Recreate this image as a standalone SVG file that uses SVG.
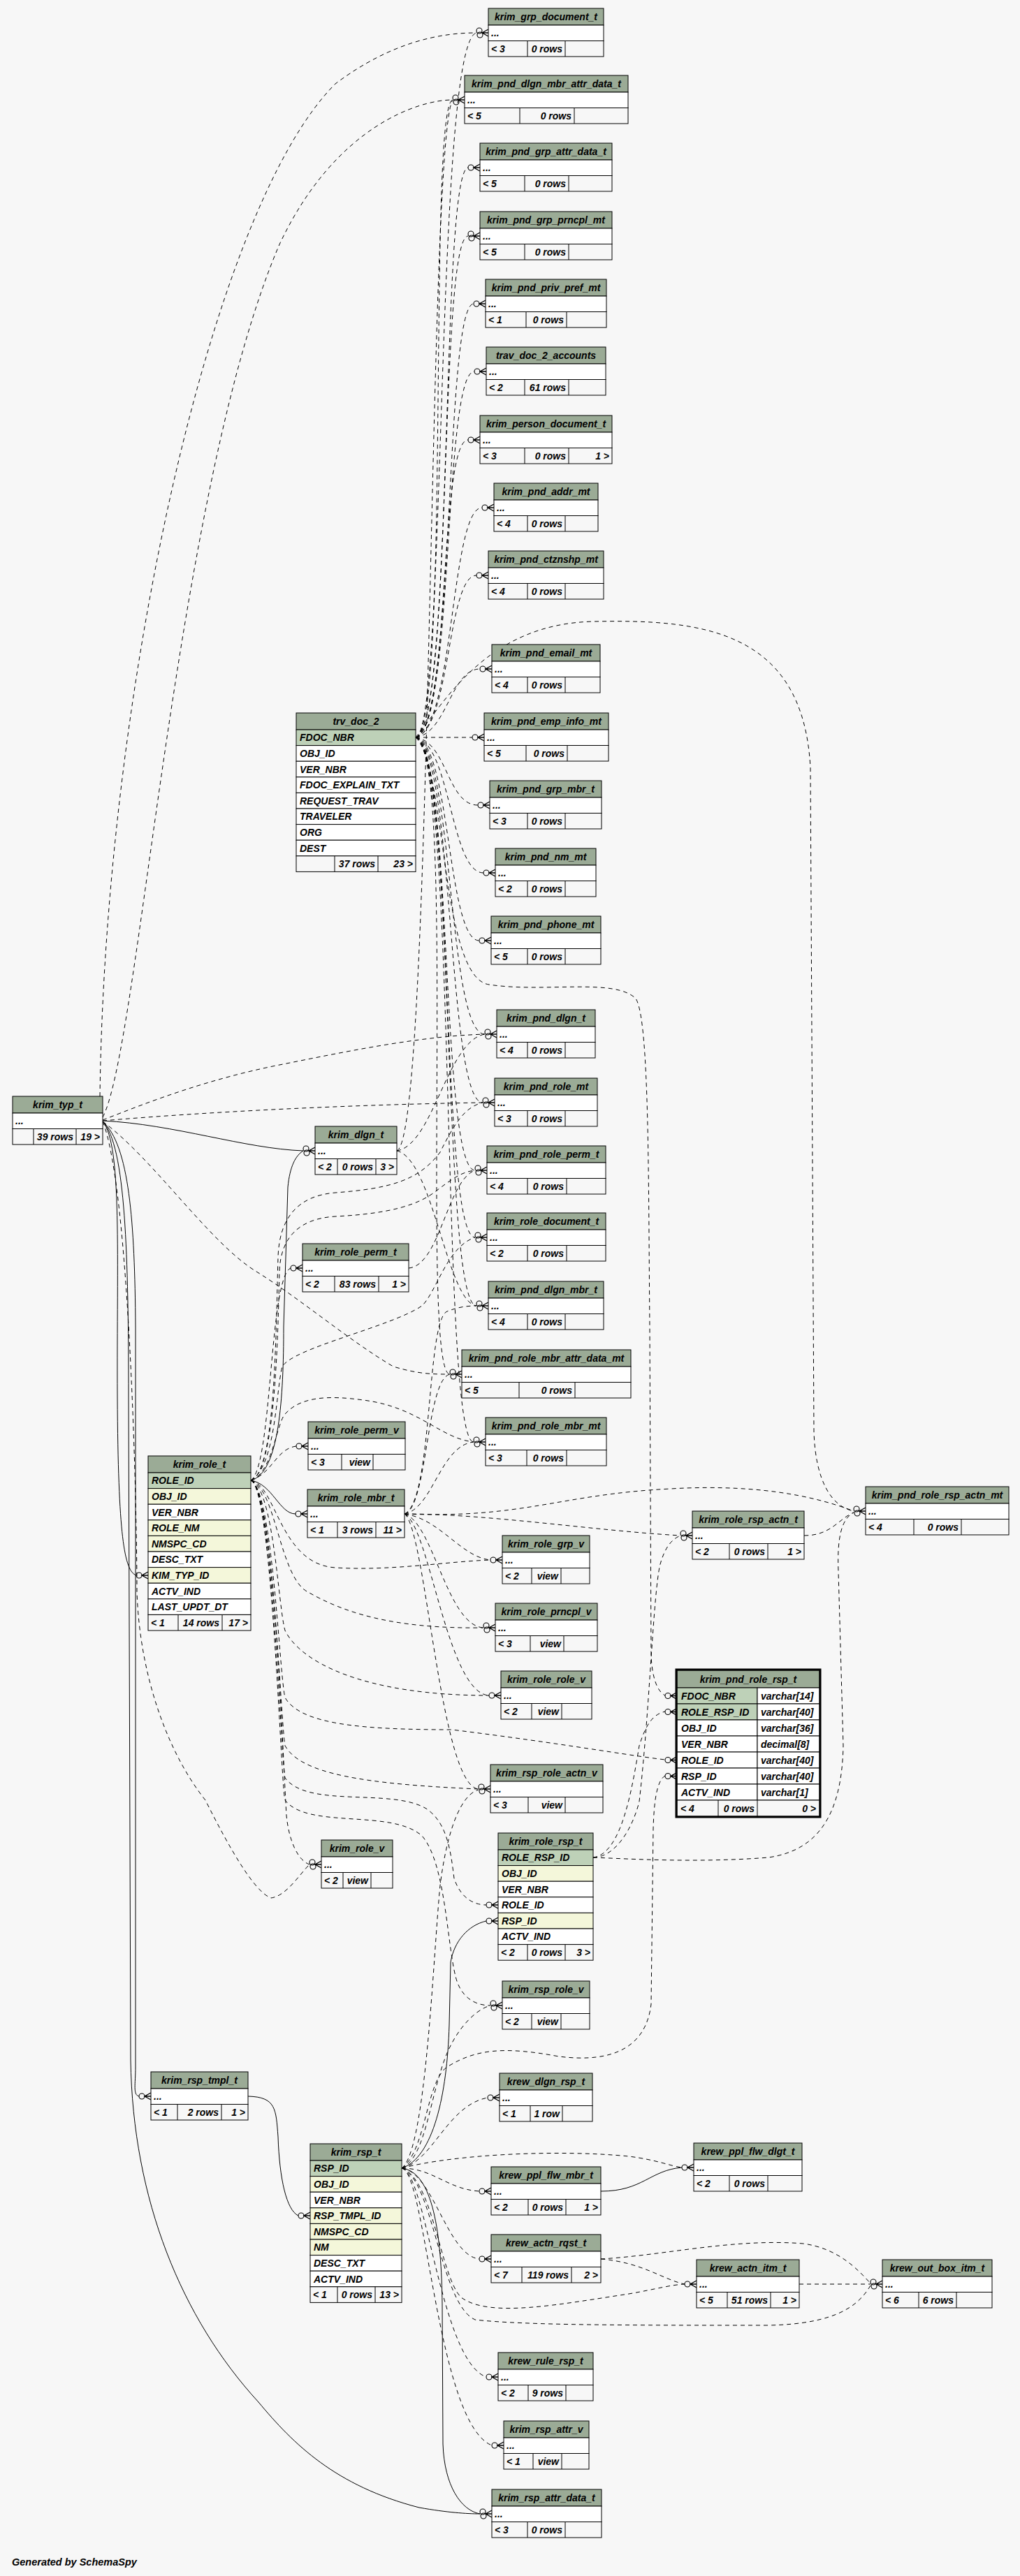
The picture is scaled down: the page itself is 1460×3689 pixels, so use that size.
<svg xmlns="http://www.w3.org/2000/svg" width="1460" height="3689" viewBox="0 0 1460 3689">
<style>
text{font-family:"Liberation Sans",Arial,Helvetica,sans-serif;font-weight:bold;font-style:italic;font-size:14px;fill:#000}
.m{text-anchor:middle}
.e{text-anchor:end}
.hd{fill:#9bab96;stroke:#000;stroke-width:1}
.pk{fill:#bed1b8;stroke:#000;stroke-width:1}
.ix{fill:#f4f7da;stroke:#000;stroke-width:1}
.wt{fill:#fff;stroke:#000;stroke-width:1}
.ft{fill:#f7f7f7;stroke:#000;stroke-width:1}
.ln{stroke:#000;stroke-width:1;fill:none}
#connectors path{fill:none;stroke:#000;stroke-width:1}
#connectors .d{stroke-dasharray:6 5}
</style>
<defs>
<g id="cf"><circle cx="-13" cy="0" r="4" fill="none" stroke="#000" stroke-width="1.1"/><path d="M0,-5L-9,0L0,5M-9,0H0" stroke="#000" stroke-width="1.4" fill="none"/></g>
<g id="cf2"><circle cx="-13" cy="-3" r="4" fill="none" stroke="#000" stroke-width="1.1"/><circle cx="-12" cy="3" r="4" fill="none" stroke="#000" stroke-width="1.1"/><path d="M0,-5L-9,0L0,5M-9,0H0" stroke="#000" stroke-width="1.4" fill="none"/></g>
</defs>
<rect x="0" y="0" width="1460" height="3689" fill="#f7f7f7"/>

<g id="connectors">
<path class="d" d="M595,1056 C640,1050 622,60 682,47"/>
<path class="d" d="M595,1056 C645,1045 612,150 648,143"/>
<path class="d" d="M595,1056 C650,1040 630,245 670,240"/>
<path class="d" d="M595,1056 C648,1040 628,340 670,338"/>
<path class="d" d="M595,1056 C652,1040 636,436 678,435"/>
<path class="d" d="M595,1056 C650,1045 634,532 679,532"/>
<path class="d" d="M595,1056 C645,1045 628,630 670,630"/>
<path class="d" d="M595,1056 C650,1045 645,727 690,727"/>
<path class="d" d="M595,1056 C645,1045 640,824 682,824"/>
<path class="d" d="M595,1056 C640,1050 645,958 687,958"/>
<path class="d" d="M595,1056 L676,1056"/>
<path class="d" d="M595,1056 C640,1062 640,1153 684,1153"/>
<path class="d" d="M595,1056 C645,1065 645,1250 692,1250"/>
<path class="d" d="M595,1056 C645,1065 640,1347 686,1347"/>
<path class="d" d="M595,1056 C650,1070 640,1481 694,1481"/>
<path class="d" d="M595,1056 C650,1070 640,1579 691,1579"/>
<path class="d" d="M595,1056 C648,1070 630,1676 680,1676"/>
<path class="d" d="M595,1056 C650,1070 630,1772 680,1772"/>
<path class="d" d="M595,1056 C652,1075 632,1870 682,1870"/>
<path class="d" d="M595,1056 C655,1075 600,1968 644,1968"/>
<path class="d" d="M595,1056 C655,1080 630,2065 678,2065"/>
<path class="d" d="M595,1056 C640,1000 700,893 850,890 C1000,887 1150,900 1160,1100 L1165,2050 C1167,2120 1190,2158 1222,2164"/>
<path class="d" d="M595,1056 C640,1100 630,1400 700,1410 C780,1422 880,1400 910,1430 C930,1460 928,1700 930,1900 L932,2370 C933,2400 940,2422 952,2428"/>
<path class="d" d="M143,1570 C150,1000 300,300 480,120 C560,60 630,47 682,47"/>
<path class="d" d="M147,1600 C200,1500 250,700 400,350 C480,180 600,143 648,143"/>
<path class="d" d="M147,1604 C220,1575 300,1545 400,1525 C500,1505 600,1484 694,1481"/>
<path class="d" d="M147,1605 C300,1592 500,1582 691,1579"/>
<path class="s" d="M147,1605 C250,1610 350,1645 434,1648"/>
<path class="d" d="M147,1606 C220,1660 300,1780 367,1821 C430,1860 500,1920 563,1957 C600,1968 620,1968 644,1968"/>
<path class="s" d="M147,1606 C175,1640 167,1800 168,2000 C169,2200 178,2250 195,2256"/>
<path class="s" d="M147,1606 C185,1640 193,1750 194,1900 L194,2960 C194,2985 190,3000 199,3002"/>
<path class="s" d="M147,1606 C180,1640 184,1800 184,2000 L187,2950 C190,3150 260,3320 370,3440 C420,3500 480,3560 600,3591 C640,3598 668,3600 687,3600"/>
<path class="d" d="M147,1606 C185,1700 196,2150 196,2280 C200,2400 240,2510 294,2578 C330,2650 365,2710 388,2718 C410,2715 428,2685 443,2670"/>
<path class="d" d="M568,1648 C620,1640 640,1490 694,1481"/>
<path class="d" d="M568,1648 C620,1660 640,1865 682,1870"/>
<path class="d" d="M568,1648 C620,1630 612,200 648,143"/>
<path class="d" d="M585,1816 C630,1812 640,1690 680,1676"/>
<path class="s" d="M359,2120 C400,2110 406,2000 406,1900 L412,1700 C415,1670 423,1655 434,1648"/>
<path class="d" d="M359,2120 C390,2100 385,1830 416,1816"/>
<path class="d" d="M359,2120 C390,2110 395,2075 424,2071"/>
<path class="s" d="M359,2120 C390,2125 400,2168 423,2168"/>
<path class="d" d="M359,2120 C392,2130 404,2500 410,2600 C414,2640 428,2665 443,2670"/>
<path class="d" d="M359,2120 C395,2125 400,2240 480,2245 C560,2250 640,2236 702,2234"/>
<path class="d" d="M359,2120 C395,2130 400,2260 441,2280 C490,2308 560,2333 692,2331"/>
<path class="d" d="M359,2120 C392,2130 398,2300 408,2335 C430,2380 520,2428 700,2428"/>
<path class="d" d="M359,2120 C390,2130 402,2470 408,2500 C430,2540 520,2555 685,2562"/>
<path class="d" d="M359,2120 C390,2130 402,2520 408,2546 C440,2590 560,2560 610,2590 C640,2610 645,2650 650,2690 C660,2720 680,2728 696,2728"/>
<path class="d" d="M359,2120 C390,2130 402,2560 408,2578 C440,2620 560,2590 604,2629 C640,2670 640,2800 655,2840 C665,2865 685,2872 702,2872"/>
<path class="d" d="M359,2120 C390,2130 400,2400 408,2431 C430,2470 520,2477 647,2477 C807,2497 900,2514 952,2520"/>
<path class="d" d="M359,2120 C395,2110 395,1900 398,1800 C400,1740 430,1712 480,1708 C560,1702 600,1690 630,1650 C650,1610 665,1585 691,1579"/>
<path class="d" d="M359,2120 C395,2110 398,1900 400,1820 C402,1770 430,1745 480,1742 C560,1738 600,1725 625,1705 C645,1690 660,1678 680,1676"/>
<path class="d" d="M359,2120 C395,2100 395,1990 404,1957 C420,1930 560,1900 604,1870 C625,1850 640,1785 680,1772"/>
<path class="d" d="M359,2120 C390,2110 395,2040 408,2025 C430,2000 470,1998 520,2005 C600,2015 630,2060 678,2065"/>
<path class="d" d="M579,2168 C612,2160 610,1975 644,1968"/>
<path class="d" d="M579,2168 C620,2160 630,2070 678,2065"/>
<path class="d" d="M579,2168 C700,2168 850,2192 974,2199"/>
<path class="d" d="M579,2168 C750,2175 800,2140 960,2132 C1100,2124 1180,2148 1222,2164"/>
<path class="d" d="M579,2168 C630,2175 660,2230 702,2234"/>
<path class="d" d="M579,2168 C620,2180 640,2328 692,2331"/>
<path class="d" d="M579,2168 C615,2185 640,2425 700,2428"/>
<path class="d" d="M579,2168 C610,2190 630,2558 685,2562"/>
<path class="d" d="M579,2168 C620,2150 610,1890 640,1878 C655,1872 668,1870 682,1870"/>
<path class="d" d="M849,2660 C880,2660 905,2620 915,2580 C930,2450 935,2280 945,2240 C952,2215 962,2204 974,2199"/>
<path class="d" d="M849,2660 C890,2655 905,2560 915,2500 C925,2468 935,2455 952,2451"/>
<path class="d" d="M849,2660 C900,2662 1000,2668 1100,2660 C1170,2650 1205,2600 1207,2500 L1200,2250 C1198,2200 1205,2175 1222,2166"/>
<path class="d" d="M1151,2199 C1190,2199 1200,2175 1222,2166"/>
<path class="s" d="M575,3105 C620,3090 640,3000 643,2900 L645,2810 C650,2780 670,2757 696,2751"/>
<path class="d" d="M575,3105 C610,3090 615,3000 640,2940 C655,2905 680,2878 702,2872"/>
<path class="d" d="M575,3105 C620,3095 640,3015 698,3004"/>
<path class="d" d="M575,3105 C620,3105 640,3135 686,3138"/>
<path class="d" d="M575,3105 C620,3110 640,3230 686,3235"/>
<path class="d" d="M575,3105 C610,3110 630,3380 696,3404"/>
<path class="d" d="M575,3105 C610,3110 625,3470 704,3502"/>
<path class="s" d="M575,3105 C620,3110 632,3200 633,3300 L634,3500 C636,3560 660,3595 687,3600"/>
<path class="d" d="M575,3105 C650,3085 800,3078 900,3088 C940,3093 960,3102 976,3104"/>
<path class="d" d="M575,3105 C620,3120 630,3260 660,3290 C700,3320 800,3300 900,3285 C940,3278 960,3272 980,3271"/>
<path class="d" d="M575,3105 C620,3120 630,3300 680,3322 C750,3330 900,3330 1100,3330 C1200,3328 1230,3300 1246,3273"/>
<path class="d" d="M575,3105 C610,3080 610,2980 640,2960 C680,2935 720,2930 800,2945 C880,2955 925,2930 932,2870 L935,2620 C936,2580 940,2550 952,2543"/>
<path class="d" d="M575,3105 C610,3080 620,2800 630,2700 C640,2620 660,2570 685,2563"/>
<path class="s" d="M355,3002 C395,3003 395,3020 398,3060 C400,3120 410,3165 427,3173"/>
<path class="s" d="M860,3138 C920,3138 930,3108 976,3104"/>
<path class="d" d="M860,3235 C920,3240 950,3265 980,3271"/>
<path class="d" d="M860,3235 C950,3230 1050,3205 1150,3213 C1200,3220 1228,3250 1246,3270"/>
<path class="d" d="M1144,3271 L1246,3271"/>
<use href="#cf2" x="699" y="47"/>
<use href="#cf2" x="665" y="143"/>
<use href="#cf" x="687" y="240"/>
<use href="#cf2" x="687" y="338"/>
<use href="#cf" x="695" y="435"/>
<use href="#cf" x="696" y="532"/>
<use href="#cf" x="687" y="630"/>
<use href="#cf" x="707" y="727"/>
<use href="#cf" x="699" y="824"/>
<use href="#cf" x="704" y="958"/>
<use href="#cf" x="693" y="1056"/>
<use href="#cf" x="701" y="1153"/>
<use href="#cf" x="709" y="1250"/>
<use href="#cf" x="703" y="1347"/>
<use href="#cf2" x="711" y="1481"/>
<use href="#cf2" x="708" y="1579"/>
<use href="#cf2" x="697" y="1676"/>
<use href="#cf2" x="697" y="1772"/>
<use href="#cf2" x="699" y="1870"/>
<use href="#cf2" x="661" y="1968"/>
<use href="#cf2" x="695" y="2065"/>
<use href="#cf" x="719" y="2234"/>
<use href="#cf2" x="709" y="2331"/>
<use href="#cf" x="717" y="2428"/>
<use href="#cf2" x="702" y="2562"/>
<use href="#cf" x="713" y="2728"/>
<use href="#cf" x="713" y="2751"/>
<use href="#cf2" x="719" y="2872"/>
<use href="#cf" x="715" y="3004"/>
<use href="#cf" x="703" y="3138"/>
<use href="#cf" x="703" y="3235"/>
<use href="#cf" x="713" y="3404"/>
<use href="#cf" x="721" y="3502"/>
<use href="#cf2" x="704" y="3600"/>
<use href="#cf2" x="451" y="1648"/>
<use href="#cf" x="433" y="1816"/>
<use href="#cf" x="441" y="2071"/>
<use href="#cf" x="440" y="2168"/>
<use href="#cf2" x="460" y="2670"/>
<use href="#cf" x="216" y="3002"/>
<use href="#cf" x="212" y="2256"/>
<use href="#cf" x="444" y="3173"/>
<use href="#cf2" x="991" y="2199"/>
<use href="#cf2" x="1239" y="2164"/>
<use href="#cf" x="969" y="2428.5"/>
<use href="#cf" x="969" y="2451.5"/>
<use href="#cf" x="969" y="2520.5"/>
<use href="#cf" x="969" y="2543.5"/>
<use href="#cf" x="993" y="3104"/>
<use href="#cf" x="997" y="3271"/>
<use href="#cf2" x="1263" y="3271"/>
</g>

<g id="krim_grp_document_t"><rect class="hd" x="699" y="12" width="165" height="24"/><rect class="wt" x="699" y="36" width="165" height="22.5"/><rect class="ft" x="699" y="58.5" width="165" height="22.5"/><path class="ln" d="M755,58.5V81M809,58.5V81"/><text class="m" x="781.5" y="29">krim_grp_document_t</text><text x="703" y="52">...</text><text x="703" y="75">&lt; 3</text><text class="e" x="805" y="75">0 rows</text></g>
<g id="krim_pnd_dlgn_mbr_attr_data_t"><rect class="hd" x="665" y="108" width="234" height="24"/><rect class="wt" x="665" y="132" width="234" height="22.5"/><rect class="ft" x="665" y="154.5" width="234" height="22.5"/><path class="ln" d="M744,154.5V177M822,154.5V177"/><text class="m" x="782" y="125">krim_pnd_dlgn_mbr_attr_data_t</text><text x="669" y="148">...</text><text x="669" y="171">&lt; 5</text><text class="e" x="818" y="171">0 rows</text></g>
<g id="krim_pnd_grp_attr_data_t"><rect class="hd" x="687" y="205" width="189" height="24"/><rect class="wt" x="687" y="229" width="189" height="22.5"/><rect class="ft" x="687" y="251.5" width="189" height="22.5"/><path class="ln" d="M751,251.5V274M814,251.5V274"/><text class="m" x="781.5" y="222">krim_pnd_grp_attr_data_t</text><text x="691" y="245">...</text><text x="691" y="268">&lt; 5</text><text class="e" x="810" y="268">0 rows</text></g>
<g id="krim_pnd_grp_prncpl_mt"><rect class="hd" x="687" y="303" width="189" height="24"/><rect class="wt" x="687" y="327" width="189" height="22.5"/><rect class="ft" x="687" y="349.5" width="189" height="22.5"/><path class="ln" d="M751,349.5V372M814,349.5V372"/><text class="m" x="781.5" y="320">krim_pnd_grp_prncpl_mt</text><text x="691" y="343">...</text><text x="691" y="366">&lt; 5</text><text class="e" x="810" y="366">0 rows</text></g>
<g id="krim_pnd_priv_pref_mt"><rect class="hd" x="695" y="400" width="173" height="24"/><rect class="wt" x="695" y="424" width="173" height="22.5"/><rect class="ft" x="695" y="446.5" width="173" height="22.5"/><path class="ln" d="M753,446.5V469M811,446.5V469"/><text class="m" x="781.5" y="417">krim_pnd_priv_pref_mt</text><text x="699" y="440">...</text><text x="699" y="463">&lt; 1</text><text class="e" x="807" y="463">0 rows</text></g>
<g id="trav_doc_2_accounts"><rect class="hd" x="696" y="497" width="171" height="24"/><rect class="wt" x="696" y="521" width="171" height="22.5"/><rect class="ft" x="696" y="543.5" width="171" height="22.5"/><path class="ln" d="M751,543.5V566M814,543.5V566"/><text class="m" x="781.5" y="514">trav_doc_2_accounts</text><text x="700" y="537">...</text><text x="700" y="560">&lt; 2</text><text class="e" x="810" y="560">61 rows</text></g>
<g id="krim_person_document_t"><rect class="hd" x="687" y="595" width="189" height="24"/><rect class="wt" x="687" y="619" width="189" height="22.5"/><rect class="ft" x="687" y="641.5" width="189" height="22.5"/><path class="ln" d="M751,641.5V664M814,641.5V664"/><text class="m" x="781.5" y="612">krim_person_document_t</text><text x="691" y="635">...</text><text x="691" y="658">&lt; 3</text><text class="e" x="810" y="658">0 rows</text><text class="e" x="872" y="658">1 &gt;</text></g>
<g id="krim_pnd_addr_mt"><rect class="hd" x="707" y="692" width="149" height="24"/><rect class="wt" x="707" y="716" width="149" height="22.5"/><rect class="ft" x="707" y="738.5" width="149" height="22.5"/><path class="ln" d="M755,738.5V761M809,738.5V761"/><text class="m" x="781.5" y="709">krim_pnd_addr_mt</text><text x="711" y="732">...</text><text x="711" y="755">&lt; 4</text><text class="e" x="805" y="755">0 rows</text></g>
<g id="krim_pnd_ctznshp_mt"><rect class="hd" x="699" y="789" width="165" height="24"/><rect class="wt" x="699" y="813" width="165" height="22.5"/><rect class="ft" x="699" y="835.5" width="165" height="22.5"/><path class="ln" d="M755,835.5V858M809,835.5V858"/><text class="m" x="781.5" y="806">krim_pnd_ctznshp_mt</text><text x="703" y="829">...</text><text x="703" y="852">&lt; 4</text><text class="e" x="805" y="852">0 rows</text></g>
<g id="krim_pnd_email_mt"><rect class="hd" x="704" y="923" width="155" height="24"/><rect class="wt" x="704" y="947" width="155" height="22.5"/><rect class="ft" x="704" y="969.5" width="155" height="22.5"/><path class="ln" d="M755,969.5V992M809,969.5V992"/><text class="m" x="781.5" y="940">krim_pnd_email_mt</text><text x="708" y="963">...</text><text x="708" y="986">&lt; 4</text><text class="e" x="805" y="986">0 rows</text></g>
<g id="krim_pnd_emp_info_mt"><rect class="hd" x="693" y="1021" width="178" height="24"/><rect class="wt" x="693" y="1045" width="178" height="22.5"/><rect class="ft" x="693" y="1067.5" width="178" height="22.5"/><path class="ln" d="M753,1067.5V1090M812,1067.5V1090"/><text class="m" x="782" y="1038">krim_pnd_emp_info_mt</text><text x="697" y="1061">...</text><text x="697" y="1084">&lt; 5</text><text class="e" x="808" y="1084">0 rows</text></g>
<g id="krim_pnd_grp_mbr_t"><rect class="hd" x="701" y="1118" width="160" height="24"/><rect class="wt" x="701" y="1142" width="160" height="22.5"/><rect class="ft" x="701" y="1164.5" width="160" height="22.5"/><path class="ln" d="M755,1164.5V1187M809,1164.5V1187"/><text class="m" x="781" y="1135">krim_pnd_grp_mbr_t</text><text x="705" y="1158">...</text><text x="705" y="1181">&lt; 3</text><text class="e" x="805" y="1181">0 rows</text></g>
<g id="krim_pnd_nm_mt"><rect class="hd" x="709" y="1215" width="144" height="24"/><rect class="wt" x="709" y="1239" width="144" height="22.5"/><rect class="ft" x="709" y="1261.5" width="144" height="22.5"/><path class="ln" d="M755,1261.5V1284M809,1261.5V1284"/><text class="m" x="781" y="1232">krim_pnd_nm_mt</text><text x="713" y="1255">...</text><text x="713" y="1278">&lt; 2</text><text class="e" x="805" y="1278">0 rows</text></g>
<g id="krim_pnd_phone_mt"><rect class="hd" x="703" y="1312" width="157" height="24"/><rect class="wt" x="703" y="1336" width="157" height="22.5"/><rect class="ft" x="703" y="1358.5" width="157" height="22.5"/><path class="ln" d="M755,1358.5V1381M809,1358.5V1381"/><text class="m" x="781.5" y="1329">krim_pnd_phone_mt</text><text x="707" y="1352">...</text><text x="707" y="1375">&lt; 5</text><text class="e" x="805" y="1375">0 rows</text></g>
<g id="krim_pnd_dlgn_t"><rect class="hd" x="711" y="1446" width="141" height="24"/><rect class="wt" x="711" y="1470" width="141" height="22.5"/><rect class="ft" x="711" y="1492.5" width="141" height="22.5"/><path class="ln" d="M755,1492.5V1515M809,1492.5V1515"/><text class="m" x="781.5" y="1463">krim_pnd_dlgn_t</text><text x="715" y="1486">...</text><text x="715" y="1509">&lt; 4</text><text class="e" x="805" y="1509">0 rows</text></g>
<g id="krim_pnd_role_mt"><rect class="hd" x="708" y="1544" width="147" height="24"/><rect class="wt" x="708" y="1568" width="147" height="22.5"/><rect class="ft" x="708" y="1590.5" width="147" height="22.5"/><path class="ln" d="M755,1590.5V1613M809,1590.5V1613"/><text class="m" x="781.5" y="1561">krim_pnd_role_mt</text><text x="712" y="1584">...</text><text x="712" y="1607">&lt; 3</text><text class="e" x="805" y="1607">0 rows</text></g>
<g id="krim_pnd_role_perm_t"><rect class="hd" x="697" y="1641" width="170" height="24"/><rect class="wt" x="697" y="1665" width="170" height="22.5"/><rect class="ft" x="697" y="1687.5" width="170" height="22.5"/><path class="ln" d="M755,1687.5V1710M811,1687.5V1710"/><text class="m" x="782" y="1658">krim_pnd_role_perm_t</text><text x="701" y="1681">...</text><text x="701" y="1704">&lt; 4</text><text class="e" x="807" y="1704">0 rows</text></g>
<g id="krim_role_document_t"><rect class="hd" x="697" y="1737" width="170" height="24"/><rect class="wt" x="697" y="1761" width="170" height="22.5"/><rect class="ft" x="697" y="1783.5" width="170" height="22.5"/><path class="ln" d="M755,1783.5V1806M811,1783.5V1806"/><text class="m" x="782" y="1754">krim_role_document_t</text><text x="701" y="1777">...</text><text x="701" y="1800">&lt; 2</text><text class="e" x="807" y="1800">0 rows</text></g>
<g id="krim_pnd_dlgn_mbr_t"><rect class="hd" x="699" y="1835" width="165" height="24"/><rect class="wt" x="699" y="1859" width="165" height="22.5"/><rect class="ft" x="699" y="1881.5" width="165" height="22.5"/><path class="ln" d="M755,1881.5V1904M809,1881.5V1904"/><text class="m" x="781.5" y="1852">krim_pnd_dlgn_mbr_t</text><text x="703" y="1875">...</text><text x="703" y="1898">&lt; 4</text><text class="e" x="805" y="1898">0 rows</text></g>
<g id="krim_pnd_role_mbr_attr_data_mt"><rect class="hd" x="661" y="1933" width="242" height="24"/><rect class="wt" x="661" y="1957" width="242" height="22.5"/><rect class="ft" x="661" y="1979.5" width="242" height="22.5"/><path class="ln" d="M743,1979.5V2002M823,1979.5V2002"/><text class="m" x="782" y="1950">krim_pnd_role_mbr_attr_data_mt</text><text x="665" y="1973">...</text><text x="665" y="1996">&lt; 5</text><text class="e" x="819" y="1996">0 rows</text></g>
<g id="krim_pnd_role_mbr_mt"><rect class="hd" x="695" y="2030" width="173" height="24"/><rect class="wt" x="695" y="2054" width="173" height="22.5"/><rect class="ft" x="695" y="2076.5" width="173" height="22.5"/><path class="ln" d="M754,2076.5V2099M811,2076.5V2099"/><text class="m" x="781.5" y="2047">krim_pnd_role_mbr_mt</text><text x="699" y="2070">...</text><text x="699" y="2093">&lt; 3</text><text class="e" x="807" y="2093">0 rows</text></g>
<g id="krim_role_grp_v"><rect class="hd" x="719" y="2199" width="125" height="24"/><rect class="wt" x="719" y="2223" width="125" height="22.5"/><rect class="ft" x="719" y="2245.5" width="125" height="22.5"/><path class="ln" d="M761,2245.5V2268M803,2245.5V2268"/><text class="m" x="781.5" y="2216">krim_role_grp_v</text><text x="723" y="2239">...</text><text x="723" y="2262">&lt; 2</text><text class="e" x="799" y="2262">view</text></g>
<g id="krim_role_prncpl_v"><rect class="hd" x="709" y="2296" width="146" height="24"/><rect class="wt" x="709" y="2320" width="146" height="22.5"/><rect class="ft" x="709" y="2342.5" width="146" height="22.5"/><path class="ln" d="M759,2342.5V2365M807,2342.5V2365"/><text class="m" x="782" y="2313">krim_role_prncpl_v</text><text x="713" y="2336">...</text><text x="713" y="2359">&lt; 3</text><text class="e" x="803" y="2359">view</text></g>
<g id="krim_role_role_v"><rect class="hd" x="717" y="2393" width="130" height="24"/><rect class="wt" x="717" y="2417" width="130" height="22.5"/><rect class="ft" x="717" y="2439.5" width="130" height="22.5"/><path class="ln" d="M761,2439.5V2462M804,2439.5V2462"/><text class="m" x="782" y="2410">krim_role_role_v</text><text x="721" y="2433">...</text><text x="721" y="2456">&lt; 2</text><text class="e" x="800" y="2456">view</text></g>
<g id="krim_rsp_role_actn_v"><rect class="hd" x="702" y="2527" width="161" height="24"/><rect class="wt" x="702" y="2551" width="161" height="22.5"/><rect class="ft" x="702" y="2573.5" width="161" height="22.5"/><path class="ln" d="M756,2573.5V2596M809,2573.5V2596"/><text class="m" x="782.5" y="2544">krim_rsp_role_actn_v</text><text x="706" y="2567">...</text><text x="706" y="2590">&lt; 3</text><text class="e" x="805" y="2590">view</text></g>
<g id="krim_rsp_role_v"><rect class="hd" x="719" y="2837" width="125" height="24"/><rect class="wt" x="719" y="2861" width="125" height="22.5"/><rect class="ft" x="719" y="2883.5" width="125" height="22.5"/><path class="ln" d="M761,2883.5V2906M803,2883.5V2906"/><text class="m" x="781.5" y="2854">krim_rsp_role_v</text><text x="723" y="2877">...</text><text x="723" y="2900">&lt; 2</text><text class="e" x="799" y="2900">view</text></g>
<g id="krew_dlgn_rsp_t"><rect class="hd" x="715" y="2969" width="133" height="24"/><rect class="wt" x="715" y="2993" width="133" height="22.5"/><rect class="ft" x="715" y="3015.5" width="133" height="22.5"/><path class="ln" d="M759,3015.5V3038M805,3015.5V3038"/><text class="m" x="781.5" y="2986">krew_dlgn_rsp_t</text><text x="719" y="3009">...</text><text x="719" y="3032">&lt; 1</text><text class="e" x="801" y="3032">1 row</text></g>
<g id="krew_ppl_flw_mbr_t"><rect class="hd" x="703" y="3103" width="157" height="24"/><rect class="wt" x="703" y="3127" width="157" height="22.5"/><rect class="ft" x="703" y="3149.5" width="157" height="22.5"/><path class="ln" d="M756,3149.5V3172M810,3149.5V3172"/><text class="m" x="781.5" y="3120">krew_ppl_flw_mbr_t</text><text x="707" y="3143">...</text><text x="707" y="3166">&lt; 2</text><text class="e" x="806" y="3166">0 rows</text><text class="e" x="856" y="3166">1 &gt;</text></g>
<g id="krew_actn_rqst_t"><rect class="hd" x="703" y="3200" width="157" height="24"/><rect class="wt" x="703" y="3224" width="157" height="22.5"/><rect class="ft" x="703" y="3246.5" width="157" height="22.5"/><path class="ln" d="M747,3246.5V3269M818,3246.5V3269"/><text class="m" x="781.5" y="3217">krew_actn_rqst_t</text><text x="707" y="3240">...</text><text x="707" y="3263">&lt; 7</text><text class="e" x="814" y="3263">119 rows</text><text class="e" x="856" y="3263">2 &gt;</text></g>
<g id="krew_rule_rsp_t"><rect class="hd" x="713" y="3369" width="136" height="24"/><rect class="wt" x="713" y="3393" width="136" height="22.5"/><rect class="ft" x="713" y="3415.5" width="136" height="22.5"/><path class="ln" d="M756,3415.5V3438M810,3415.5V3438"/><text class="m" x="781" y="3386">krew_rule_rsp_t</text><text x="717" y="3409">...</text><text x="717" y="3432">&lt; 2</text><text class="e" x="806" y="3432">9 rows</text></g>
<g id="krim_rsp_attr_v"><rect class="hd" x="721" y="3467" width="122" height="24"/><rect class="wt" x="721" y="3491" width="122" height="22.5"/><rect class="ft" x="721" y="3513.5" width="122" height="22.5"/><path class="ln" d="M763,3513.5V3536M804,3513.5V3536"/><text class="m" x="782" y="3484">krim_rsp_attr_v</text><text x="725" y="3507">...</text><text x="725" y="3530">&lt; 1</text><text class="e" x="800" y="3530">view</text></g>
<g id="krim_rsp_attr_data_t"><rect class="hd" x="704" y="3565" width="157" height="24"/><rect class="wt" x="704" y="3589" width="157" height="22.5"/><rect class="ft" x="704" y="3611.5" width="157" height="22.5"/><path class="ln" d="M755,3611.5V3634M809,3611.5V3634"/><text class="m" x="782.5" y="3582">krim_rsp_attr_data_t</text><text x="708" y="3605">...</text><text x="708" y="3628">&lt; 3</text><text class="e" x="805" y="3628">0 rows</text></g>
<g id="krim_typ_t"><rect class="hd" x="18" y="1570" width="129" height="24"/><rect class="wt" x="18" y="1594" width="129" height="22.5"/><rect class="ft" x="18" y="1616.5" width="129" height="22.5"/><path class="ln" d="M48,1616.5V1639M109,1616.5V1639"/><text class="m" x="82.5" y="1587">krim_typ_t</text><text x="22" y="1610">...</text><text class="e" x="105" y="1633">39 rows</text><text class="e" x="143" y="1633">19 &gt;</text></g>
<g id="krim_dlgn_t"><rect class="hd" x="451" y="1613" width="117" height="24"/><rect class="wt" x="451" y="1637" width="117" height="22.5"/><rect class="ft" x="451" y="1659.5" width="117" height="22.5"/><path class="ln" d="M483,1659.5V1682M538,1659.5V1682"/><text class="m" x="509.5" y="1630">krim_dlgn_t</text><text x="455" y="1653">...</text><text x="455" y="1676">&lt; 2</text><text class="e" x="534" y="1676">0 rows</text><text class="e" x="564" y="1676">3 &gt;</text></g>
<g id="krim_role_perm_t"><rect class="hd" x="433" y="1781" width="152" height="24"/><rect class="wt" x="433" y="1805" width="152" height="22.5"/><rect class="ft" x="433" y="1827.5" width="152" height="22.5"/><path class="ln" d="M479,1827.5V1850M542,1827.5V1850"/><text class="m" x="509" y="1798">krim_role_perm_t</text><text x="437" y="1821">...</text><text x="437" y="1844">&lt; 2</text><text class="e" x="538" y="1844">83 rows</text><text class="e" x="581" y="1844">1 &gt;</text></g>
<g id="krim_role_perm_v"><rect class="hd" x="441" y="2036" width="139" height="24"/><rect class="wt" x="441" y="2060" width="139" height="22.5"/><rect class="ft" x="441" y="2082.5" width="139" height="22.5"/><path class="ln" d="M489,2082.5V2105M534,2082.5V2105"/><text class="m" x="510.5" y="2053">krim_role_perm_v</text><text x="445" y="2076">...</text><text x="445" y="2099">&lt; 3</text><text class="e" x="530" y="2099">view</text></g>
<g id="krim_role_mbr_t"><rect class="hd" x="440" y="2133" width="139" height="24"/><rect class="wt" x="440" y="2157" width="139" height="22.5"/><rect class="ft" x="440" y="2179.5" width="139" height="22.5"/><path class="ln" d="M483,2179.5V2202M538,2179.5V2202"/><text class="m" x="509.5" y="2150">krim_role_mbr_t</text><text x="444" y="2173">...</text><text x="444" y="2196">&lt; 1</text><text class="e" x="534" y="2196">3 rows</text><text class="e" x="575" y="2196">11 &gt;</text></g>
<g id="krim_role_v"><rect class="hd" x="460" y="2635" width="102" height="24"/><rect class="wt" x="460" y="2659" width="102" height="22.5"/><rect class="ft" x="460" y="2681.5" width="102" height="22.5"/><path class="ln" d="M491,2681.5V2704M531,2681.5V2704"/><text class="m" x="511" y="2652">krim_role_v</text><text x="464" y="2675">...</text><text x="464" y="2698">&lt; 2</text><text class="e" x="527" y="2698">view</text></g>
<g id="krim_rsp_tmpl_t"><rect class="hd" x="216" y="2967" width="139" height="24"/><rect class="wt" x="216" y="2991" width="139" height="22.5"/><rect class="ft" x="216" y="3013.5" width="139" height="22.5"/><path class="ln" d="M254,3013.5V3036M317,3013.5V3036"/><text class="m" x="285.5" y="2984">krim_rsp_tmpl_t</text><text x="220" y="3007">...</text><text x="220" y="3030">&lt; 1</text><text class="e" x="313" y="3030">2 rows</text><text class="e" x="351" y="3030">1 &gt;</text></g>
<g id="krim_role_rsp_actn_t"><rect class="hd" x="991" y="2164" width="160" height="24"/><rect class="wt" x="991" y="2188" width="160" height="22.5"/><rect class="ft" x="991" y="2210.5" width="160" height="22.5"/><path class="ln" d="M1044,2210.5V2233M1099,2210.5V2233"/><text class="m" x="1071" y="2181">krim_role_rsp_actn_t</text><text x="995" y="2204">...</text><text x="995" y="2227">&lt; 2</text><text class="e" x="1095" y="2227">0 rows</text><text class="e" x="1147" y="2227">1 &gt;</text></g>
<g id="krim_pnd_role_rsp_actn_mt"><rect class="hd" x="1239" y="2129" width="205" height="24"/><rect class="wt" x="1239" y="2153" width="205" height="22.5"/><rect class="ft" x="1239" y="2175.5" width="205" height="22.5"/><path class="ln" d="M1308,2175.5V2198M1376,2175.5V2198"/><text class="m" x="1341.5" y="2146">krim_pnd_role_rsp_actn_mt</text><text x="1243" y="2169">...</text><text x="1243" y="2192">&lt; 4</text><text class="e" x="1372" y="2192">0 rows</text></g>
<g id="krew_ppl_flw_dlgt_t"><rect class="hd" x="993" y="3069" width="155" height="24"/><rect class="wt" x="993" y="3093" width="155" height="22.5"/><rect class="ft" x="993" y="3115.5" width="155" height="22.5"/><path class="ln" d="M1044,3115.5V3138M1099,3115.5V3138"/><text class="m" x="1070.5" y="3086">krew_ppl_flw_dlgt_t</text><text x="997" y="3109">...</text><text x="997" y="3132">&lt; 2</text><text class="e" x="1095" y="3132">0 rows</text></g>
<g id="krew_actn_itm_t"><rect class="hd" x="997" y="3236" width="147" height="24"/><rect class="wt" x="997" y="3260" width="147" height="22.5"/><rect class="ft" x="997" y="3282.5" width="147" height="22.5"/><path class="ln" d="M1041,3282.5V3305M1103,3282.5V3305"/><text class="m" x="1070.5" y="3253">krew_actn_itm_t</text><text x="1001" y="3276">...</text><text x="1001" y="3299">&lt; 5</text><text class="e" x="1099" y="3299">51 rows</text><text class="e" x="1140" y="3299">1 &gt;</text></g>
<g id="krew_out_box_itm_t"><rect class="hd" x="1263" y="3236" width="157" height="24"/><rect class="wt" x="1263" y="3260" width="157" height="22.5"/><rect class="ft" x="1263" y="3282.5" width="157" height="22.5"/><path class="ln" d="M1315,3282.5V3305M1369,3282.5V3305"/><text class="m" x="1341.5" y="3253">krew_out_box_itm_t</text><text x="1267" y="3276">...</text><text x="1267" y="3299">&lt; 6</text><text class="e" x="1365" y="3299">6 rows</text></g>

<g id="trv_doc_2"><rect class="hd" x="424" y="1021" width="171" height="24"/><rect class="pk" x="424" y="1045" width="171" height="22.6"/><rect class="wt" x="424" y="1067.6" width="171" height="22.6"/><rect class="wt" x="424" y="1090.2" width="171" height="22.6"/><rect class="wt" x="424" y="1112.8" width="171" height="22.6"/><rect class="wt" x="424" y="1135.4" width="171" height="22.6"/><rect class="wt" x="424" y="1158" width="171" height="22.6"/><rect class="wt" x="424" y="1180.6" width="171" height="22.6"/><rect class="wt" x="424" y="1203.2" width="171" height="22.6"/><rect class="ft" x="424" y="1225.8" width="171" height="22.6"/><path class="ln" d="M479,1225.8V1248.4M541,1225.8V1248.4"/><text class="m" x="509.5" y="1038">trv_doc_2</text><text x="429" y="1061.3">FDOC_NBR</text><text x="429" y="1083.9">OBJ_ID</text><text x="429" y="1106.5">VER_NBR</text><text x="429" y="1129.1">FDOC_EXPLAIN_TXT</text><text x="429" y="1151.7">REQUEST_TRAV</text><text x="429" y="1174.3">TRAVELER</text><text x="429" y="1196.9">ORG</text><text x="429" y="1219.5">DEST</text><text class="e" x="537" y="1242.1">37 rows</text><text class="e" x="591" y="1242.1">23 &gt;</text></g>
<g id="krim_role_t"><rect class="hd" x="212" y="2085" width="147" height="24"/><rect class="pk" x="212" y="2109" width="147" height="22.6"/><rect class="ix" x="212" y="2131.6" width="147" height="22.6"/><rect class="wt" x="212" y="2154.2" width="147" height="22.6"/><rect class="ix" x="212" y="2176.8" width="147" height="22.6"/><rect class="ix" x="212" y="2199.4" width="147" height="22.6"/><rect class="wt" x="212" y="2222" width="147" height="22.6"/><rect class="ix" x="212" y="2244.6" width="147" height="22.6"/><rect class="wt" x="212" y="2267.2" width="147" height="22.6"/><rect class="wt" x="212" y="2289.8" width="147" height="22.6"/><rect class="ft" x="212" y="2312.4" width="147" height="22.6"/><path class="ln" d="M255,2312.4V2335M318,2312.4V2335"/><text class="m" x="285.5" y="2102">krim_role_t</text><text x="217" y="2125.3">ROLE_ID</text><text x="217" y="2147.9">OBJ_ID</text><text x="217" y="2170.5">VER_NBR</text><text x="217" y="2193.1">ROLE_NM</text><text x="217" y="2215.7">NMSPC_CD</text><text x="217" y="2238.3">DESC_TXT</text><text x="217" y="2260.9">KIM_TYP_ID</text><text x="217" y="2283.5">ACTV_IND</text><text x="217" y="2306.1">LAST_UPDT_DT</text><text x="216" y="2328.7">&lt; 1</text><text class="e" x="314" y="2328.7">14 rows</text><text class="e" x="355" y="2328.7">17 &gt;</text></g>
<g id="krim_rsp_t"><rect class="hd" x="444" y="3070" width="131" height="24"/><rect class="pk" x="444" y="3094" width="131" height="22.6"/><rect class="ix" x="444" y="3116.6" width="131" height="22.6"/><rect class="wt" x="444" y="3139.2" width="131" height="22.6"/><rect class="ix" x="444" y="3161.8" width="131" height="22.6"/><rect class="ix" x="444" y="3184.4" width="131" height="22.6"/><rect class="ix" x="444" y="3207" width="131" height="22.6"/><rect class="wt" x="444" y="3229.6" width="131" height="22.6"/><rect class="wt" x="444" y="3252.2" width="131" height="22.6"/><rect class="ft" x="444" y="3274.8" width="131" height="22.6"/><path class="ln" d="M483,3274.8V3297.4M537,3274.8V3297.4"/><text class="m" x="509.5" y="3087">krim_rsp_t</text><text x="449" y="3110.3">RSP_ID</text><text x="449" y="3132.9">OBJ_ID</text><text x="449" y="3155.5">VER_NBR</text><text x="449" y="3178.1">RSP_TMPL_ID</text><text x="449" y="3200.7">NMSPC_CD</text><text x="449" y="3223.3">NM</text><text x="449" y="3245.9">DESC_TXT</text><text x="449" y="3268.5">ACTV_IND</text><text x="448" y="3291.1">&lt; 1</text><text class="e" x="533" y="3291.1">0 rows</text><text class="e" x="571" y="3291.1">13 &gt;</text></g>
<g id="krim_role_rsp_t"><rect class="hd" x="713" y="2625" width="136" height="24"/><rect class="pk" x="713" y="2649" width="136" height="22.6"/><rect class="ix" x="713" y="2671.6" width="136" height="22.6"/><rect class="wt" x="713" y="2694.2" width="136" height="22.6"/><rect class="wt" x="713" y="2716.8" width="136" height="22.6"/><rect class="ix" x="713" y="2739.4" width="136" height="22.6"/><rect class="wt" x="713" y="2762" width="136" height="22.6"/><rect class="ft" x="713" y="2784.6" width="136" height="22.6"/><path class="ln" d="M755,2784.6V2807.2M809,2784.6V2807.2"/><text class="m" x="781" y="2642">krim_role_rsp_t</text><text x="718" y="2665.3">ROLE_RSP_ID</text><text x="718" y="2687.9">OBJ_ID</text><text x="718" y="2710.5">VER_NBR</text><text x="718" y="2733.1">ROLE_ID</text><text x="718" y="2755.7">RSP_ID</text><text x="718" y="2778.3">ACTV_IND</text><text x="717" y="2800.9">&lt; 2</text><text class="e" x="805" y="2800.9">0 rows</text><text class="e" x="845" y="2800.9">3 &gt;</text></g>
<g id="krim_pnd_role_rsp_t"><rect class="hd" x="969" y="2392" width="204" height="25"/><rect class="pk" x="969" y="2417" width="115" height="23"/><rect class="wt" x="1084" y="2417" width="89" height="23"/><rect class="pk" x="969" y="2440" width="115" height="23"/><rect class="wt" x="1084" y="2440" width="89" height="23"/><rect class="wt" x="969" y="2463" width="115" height="23"/><rect class="wt" x="1084" y="2463" width="89" height="23"/><rect class="wt" x="969" y="2486" width="115" height="23"/><rect class="wt" x="1084" y="2486" width="89" height="23"/><rect class="wt" x="969" y="2509" width="115" height="23"/><rect class="wt" x="1084" y="2509" width="89" height="23"/><rect class="wt" x="969" y="2532" width="115" height="23"/><rect class="wt" x="1084" y="2532" width="89" height="23"/><rect class="wt" x="969" y="2555" width="115" height="23"/><rect class="wt" x="1084" y="2555" width="89" height="23"/><rect class="ft" x="969" y="2578" width="204" height="23"/><path class="ln" d="M1028,2578V2601M1084,2578V2601"/><rect x="968" y="2391" width="206" height="211" fill="none" stroke="#000" stroke-width="3"/><text class="m" x="1071" y="2410">krim_pnd_role_rsp_t</text><text x="975" y="2434">FDOC_NBR</text><text x="1089" y="2434">varchar[14]</text><text x="975" y="2457">ROLE_RSP_ID</text><text x="1089" y="2457">varchar[40]</text><text x="975" y="2480">OBJ_ID</text><text x="1089" y="2480">varchar[36]</text><text x="975" y="2503">VER_NBR</text><text x="1089" y="2503">decimal[8]</text><text x="975" y="2526">ROLE_ID</text><text x="1089" y="2526">varchar[40]</text><text x="975" y="2549">RSP_ID</text><text x="1089" y="2549">varchar[40]</text><text x="975" y="2572">ACTV_IND</text><text x="1089" y="2572">varchar[1]</text><text x="974" y="2595">&lt; 4</text><text class="e" x="1080" y="2595">0 rows</text><text class="e" x="1168" y="2595">0 &gt;</text></g>

<text x="17" y="3674" style="font-size:14.5px">Generated by SchemaSpy</text>
</svg>
